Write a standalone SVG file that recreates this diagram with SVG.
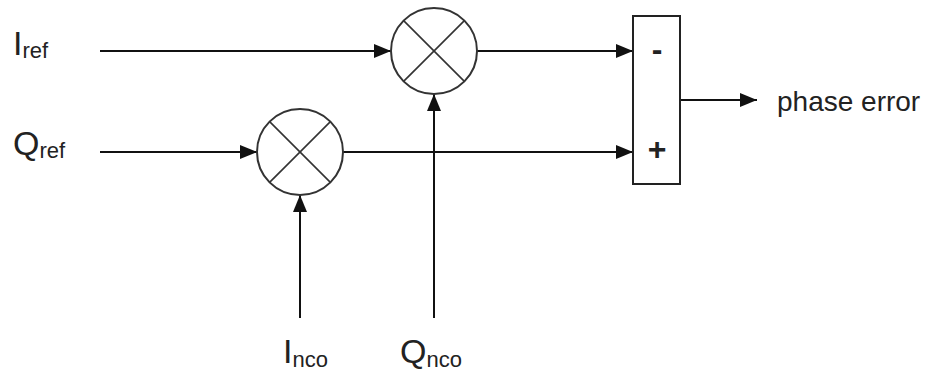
<svg xmlns="http://www.w3.org/2000/svg" width="925" height="377" viewBox="0 0 925 377">
<defs>
<marker id="arr" markerWidth="18" markerHeight="14" refX="17" refY="7" orient="auto" markerUnits="userSpaceOnUse">
<path d="M0,0 L17,7 L0,14 Z" fill="#111"/>
</marker>
<style>
.ln{stroke:#111;stroke-width:2;fill:none}
.mul{stroke:#333;stroke-width:2;fill:#fff}
.x{stroke:#333;stroke-width:1.6}
.box{stroke:#222;stroke-width:2;fill:#fff}
.t{font-family:"Liberation Sans",Arial,sans-serif;fill:#222}
.big{font-size:34px}
.sub{font-size:22px}
.sign{font-family:"Liberation Sans",Arial,sans-serif;font-size:32px;font-weight:bold;fill:#222;text-anchor:middle}
</style>
</defs>
<rect width="925" height="377" fill="#fff"/>
<g id="connectors">
<line class="ln" x1="100" y1="51" x2="391" y2="51" marker-end="url(#arr)"/>
<line class="ln" x1="100" y1="152" x2="257" y2="152" marker-end="url(#arr)"/>
<line class="ln" x1="477" y1="51" x2="633" y2="51" marker-end="url(#arr)"/>
<line class="ln" x1="343" y1="152" x2="633" y2="152" marker-end="url(#arr)"/>
<line class="ln" x1="300" y1="318" x2="300" y2="195" marker-end="url(#arr)"/>
<line class="ln" x1="434" y1="318" x2="434" y2="94" marker-end="url(#arr)"/>
<line class="ln" x1="680" y1="100" x2="757" y2="100" marker-end="url(#arr)"/>
</g>
<g id="mult1">
<circle class="mul" cx="434" cy="51" r="43"/>
<line class="x" x1="403.6" y1="20.6" x2="464.4" y2="81.4"/>
<line class="x" x1="464.4" y1="20.6" x2="403.6" y2="81.4"/>
</g>
<g id="mult2">
<circle class="mul" cx="300" cy="152" r="43"/>
<line class="x" x1="269.6" y1="121.6" x2="330.4" y2="182.4"/>
<line class="x" x1="330.4" y1="121.6" x2="269.6" y2="182.4"/>
</g>
<g id="sum">
<rect class="box" x="633" y="16" width="47" height="168"/>
<text class="sign" x="657" y="60">-</text>
<text class="sign" x="657" y="160">+</text>
</g>
<g id="label-iref"><text class="t" x="13" y="55"><tspan class="big">I</tspan><tspan class="sub" dy="3">ref</tspan></text></g>
<g id="label-qref"><text class="t" x="13" y="155"><tspan class="big">Q</tspan><tspan class="sub" dy="3">ref</tspan></text></g>
<g id="label-inco"><text class="t" x="283" y="363"><tspan class="big">I</tspan><tspan class="sub" dy="4">nco</tspan></text></g>
<g id="label-qnco"><text class="t" x="400" y="363"><tspan class="big">Q</tspan><tspan class="sub" dy="4">nco</tspan></text></g>
<g id="label-phase"><text class="t" x="777" y="111" font-size="28">phase error</text></g>
</svg>
